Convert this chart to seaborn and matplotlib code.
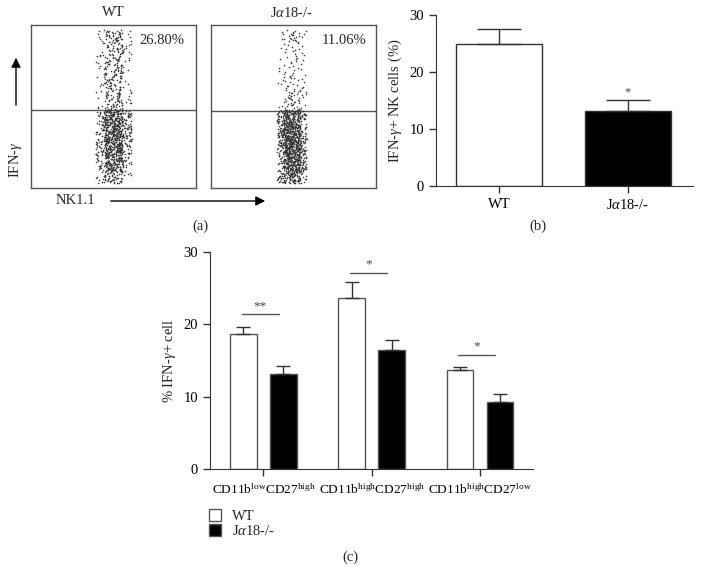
import numpy as np
import pandas as pd
import matplotlib.pyplot as plt
import seaborn as sns

# (a) flow plots: dot counts per IFN-g band (fraction of plot height)
band_edges = [0.03, 0.10, 0.20, 0.30, 0.40, 0.48, 0.60, 0.70, 0.80, 0.90, 0.97]
wt_counts = [60, 170, 230, 230, 170, 75, 60, 60, 60, 50]
ja_counts = [110, 230, 280, 260, 180, 45, 25, 18, 18, 25]
gates = [0.48, 0.47]
flow_titles = ['WT', r'J$\alpha$18-/-']
pct_labels = ['26.80%', '11.06%']

# (b)
b_groups = ['WT', r'J$\alpha$18-/-']
b_mean = [25.0, 13.2]
b_err = [2.5, 1.9]

# (c)
c_subsets = [r'CD11b$^{\mathrm{low}}$CD27$^{\mathrm{high}}$',
             r'CD11b$^{\mathrm{high}}$CD27$^{\mathrm{high}}$',
             r'CD11b$^{\mathrm{high}}$CD27$^{\mathrm{low}}$']
c_genotypes = ['WT', r'J$\alpha$18-/-']
c_wt_mean = [18.6, 23.7, 13.7]
c_wt_err = [1.1, 2.2, 0.4]
c_ja_mean = [13.2, 16.5, 9.2]
c_ja_err = [1.0, 1.3, 1.2]
c_sig = ['**', '*', '*']
c_sig_y = [21.4, 27.1, 15.8]

sns.set_style('ticks')
plt.rcParams['font.family'] = ['Liberation Serif', 'DejaVu Serif']
plt.rcParams['mathtext.fontset'] = 'custom'
plt.rcParams['mathtext.rm'] = 'Liberation Serif'
plt.rcParams['mathtext.it'] = 'Liberation Serif:italic'
plt.rcParams['font.size'] = 10.5
np.random.seed(3)

FS = 10.5
W, H = 701, 584
fig = plt.figure(figsize=(W / 100, H / 100), dpi=100)


def fbox(x0, y0, x1, y1):
    # pixel box (top-left origin) -> figure fraction rect
    return [x0 / W, 1 - y1 / H, (x1 - x0) / W, (y1 - y0) / H]


def band_values(edges, counts, part, n_parts):
    vals = []
    for lo, hi, n in zip(edges[:-1], edges[1:], counts):
        v = np.linspace(lo, hi, n, endpoint=False)
        vals.extend(v[part::n_parts])
    return np.array(vals)


# ---- (a)
gray = '#555555'
flow_boxes = [(31, 25, 196, 188), (211, 25, 376, 188)]
flow_counts = [wt_counts, ja_counts]
jitters = [(0.28, 0.55), (0.25, 0.45)]
centers = [0.0, 0.05]
pct_x = [162, 344]
title_x = [113, 292]
for i in range(2):
    ax = fig.add_axes(fbox(*flow_boxes[i]))
    # dense core plus wider fringe of the same bands
    for k, jit in enumerate(jitters[i]):
        yv = band_values(band_edges, flow_counts[i], k, 2)
        sns.stripplot(y=yv, jitter=jit, size=1.15, color='#3a3a3a', linewidth=0, ax=ax)
    ax.set_xlim(-2.5 + centers[i], 2.5 + centers[i])
    ax.set_ylim(0, 1)
    ax.axhline(gates[i], color=gray, lw=1)
    ax.set_xticks([])
    ax.set_yticks([])
    ax.set_xlabel('')
    ax.set_ylabel('')
    for s in ax.spines.values():
        s.set_visible(True)
        s.set_color(gray)
        s.set_linewidth(1)
    fig.text(title_x[i] / W, 1 - 13 / H, flow_titles[i], ha='center', va='center', fontsize=FS)
    fig.text(pct_x[i] / W, 1 - 40 / H, pct_labels[i], ha='center', va='center', fontsize=FS)

arrow = dict(arrowstyle='-|>', color='black', lw=1, mutation_scale=14)
fig.add_artist(plt.Annotation('', xy=(16 / W, 1 - 55 / H), xytext=(16 / W, 1 - 108 / H),
                              xycoords='figure fraction', arrowprops=arrow))
fig.add_artist(plt.Annotation('', xy=(268 / W, 1 - 201 / H), xytext=(108 / W, 1 - 201 / H),
                              xycoords='figure fraction', arrowprops=arrow))
fig.text(15 / W, 1 - 160 / H, r'IFN-$\gamma$', rotation=90, ha='center', va='center', fontsize=FS)
fig.text(75 / W, 1 - 201 / H, 'NK1.1', ha='center', va='center', fontsize=FS)
fig.text(200 / W, 1 - 226 / H, '(a)', ha='center', va='center', fontsize=FS)

# ---- (b)
line_c = '#333333'
ax_b = fig.add_axes(fbox(436, 15, 693, 186))
df_b = pd.DataFrame({'group': b_groups, 'mean': b_mean})
sns.barplot(data=df_b, x='group', y='mean', hue='group', palette=['white', 'black'],
            edgecolor=line_c, linewidth=1, width=0.667, legend=False, ax=ax_b)
for bar, err in zip([c[0] for c in ax_b.containers], b_err):
    cx = bar.get_x() + bar.get_width() / 2
    ax_b.errorbar(cx, bar.get_height(), yerr=[[0], [err]], color=line_c, lw=1,
                  capsize=16, capthick=1)
ax_b.text(1, b_mean[1] + b_err[1] + 0.3, '*', ha='center', va='bottom', fontsize=9, color='#444444')
ax_b.set_xlim(-0.488, 1.504)
ax_b.set_ylim(0, 30)
ax_b.set_yticks([0, 10, 20, 30])
ax_b.set_xlabel('')
ax_b.set_ylabel('IFN-$\\gamma$+ NK cells (%)', fontsize=FS)
sns.despine(ax=ax_b)
for s in ['left', 'bottom']:
    ax_b.spines[s].set_color(line_c)
ax_b.tick_params(axis='both', colors=line_c, labelcolor='black', labelsize=FS, length=5, width=1)
fig.text(538 / W, 1 - 226 / H, '(b)', ha='center', va='center', fontsize=FS)

# ---- (c)
ax_c = fig.add_axes(fbox(210, 252, 533, 469))
df_c = pd.DataFrame({
    'subset': c_subsets * 2,
    'genotype': [c_genotypes[0]] * 3 + [c_genotypes[1]] * 3,
    'mean': c_wt_mean + c_ja_mean,
})
edge_c = '#555555'
sns.barplot(data=df_c, x='subset', y='mean', hue='genotype', palette=['white', 'black'],
            edgecolor=edge_c, linewidth=1, width=0.74, gap=0.33, ax=ax_c)
for cont, errs in zip(ax_c.containers, [c_wt_err, c_ja_err]):
    for bar, err in zip(cont, errs):
        cx = bar.get_x() + bar.get_width() / 2
        ax_c.errorbar(cx, bar.get_height(), yerr=[[0], [err]], color=line_c, lw=1,
                      capsize=5, capthick=1)
for i, (mark, y) in enumerate(zip(c_sig, c_sig_y)):
    ax_c.plot([i - 0.2, i + 0.14], [y, y], color=edge_c, lw=1)
    ax_c.text(i - 0.03, y + 0.3, mark, ha='center', va='bottom', fontsize=9.5, color='#444444')
ax_c.set_xlim(-0.494, 2.49)
ax_c.set_ylim(0, 30)
ax_c.set_yticks([0, 10, 20, 30])
ax_c.set_xlabel('')
ax_c.set_ylabel('% IFN-$\\gamma$+ cell', fontsize=FS)
sns.despine(ax=ax_c)
for s in ['left', 'bottom']:
    ax_c.spines[s].set_color(line_c)
ax_c.tick_params(axis='both', colors=line_c, labelcolor='black', labelsize=FS, length=5, width=1)
ax_c.tick_params(axis='x', labelsize=9.6, pad=5)
sns.move_legend(ax_c, 'upper left', bbox_to_anchor=(209 / W, 1 - 509 / H),
                bbox_transform=fig.transFigure, frameon=False, title=None,
                handlelength=0.85, handleheight=0.85, handletextpad=0.7,
                labelspacing=0.1, fontsize=FS, borderaxespad=0, borderpad=0)
fig.text(350 / W, 1 - 557 / H, '(c)', ha='center', va='center', fontsize=FS)

fig.savefig('out.png', dpi=100)
